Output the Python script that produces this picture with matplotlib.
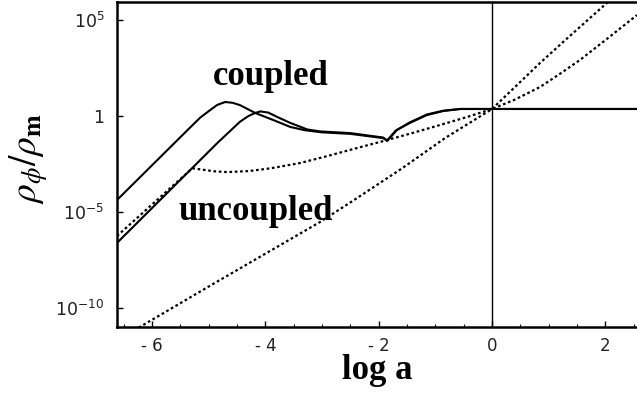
import numpy as np
import matplotlib
matplotlib.use("Agg")
import matplotlib.pyplot as plt
from matplotlib.ticker import FixedLocator, FixedFormatter, MultipleLocator, NullLocator

# ---- data: log10(rho_phi / rho_m) versus log a ----
coupled1_loga = [-6.62, -5.33, -5.15, -4.98, -4.85, -4.71, -4.58, -4.45, -4.18, -3.86,
                 -3.56, -3.3, -3.0, -2.5, -1.92, -1.85, -1.68, -1.45, -1.15, -0.86,
                 -0.56, 0.0, 2.56]
coupled1_log = [-4.375, -0.6, -0.08, 0.3, 0.58, 0.73, 0.69, 0.57, 0.16, -0.21,
                -0.57, -0.74, -0.85, -0.93, -1.15, -1.30, -0.73, -0.36, 0.05, 0.26,
                0.365, 0.365, 0.365]

coupled2_loga = [-6.62, -4.85, -4.45, -4.3, -4.18, -4.09, -3.95, -3.79, -3.56, -3.26,
                 -3.04, -2.5, -1.92, -1.85, -1.7, -1.45, -1.15, -0.86, -0.56, 0.0, 2.56]
coupled2_log = [-6.61, -1.41, -0.3, 0.0, 0.16, 0.24, 0.18, -0.05, -0.36, -0.70,
                -0.80, -0.89, -1.12, -1.27, -0.76, -0.33, 0.08, 0.28, 0.37, 0.37, 0.37]

uncoupledA_loga = [-6.62, -5.29, -5.1, -4.9, -4.68, -4.3, -3.9, -3.39, -2.9, -2.4,
                   -1.85, -1.4, -0.92, -0.45, 0.0, 0.4, 0.847, 1.2, 1.553, 2.0, 2.56]
uncoupledA_log = [-6.25, -2.72, -2.8, -2.88, -2.92, -2.87, -2.72, -2.45, -2.08, -1.68,
                  -1.25, -0.88, -0.47, -0.06, 0.365, 0.85, 1.51, 2.2, 2.92, 3.95, 5.26]

uncoupledB_loga = [-6.4, -6.16, -5.0, -4.0, -3.035, -2.435, -1.6, -0.83, 0.0, 0.847,
                   1.253, 2.047, 2.2]
uncoupledB_log = [-11.3, -10.89, -8.88, -7.17, -5.52, -4.375, -2.75, -1.15, 0.365, 2.76,
                  3.85, 5.94, 6.35]

xticks = [-6, -4, -2, 0, 2]
xticklabels = ["- 6", "- 4", "- 2", "0", "2"]
yticks_exp = [-10, -5, 0, 5]
yticklabels = [r"$10^{-10}$", r"$10^{-5}$", "1", r"$10^{5}$"]

# ---- figure ----
fig = plt.figure(figsize=(6.37, 3.95), dpi=100)
ax = fig.add_axes([117/637, 1 - 327/395, 520/637, 325/395])
ax.set_yscale("log")

def p(v):
    return np.power(10.0, np.asarray(v, dtype=float))

solid_kw = dict(color="black", lw=1.5, solid_joinstyle="round")
dot_kw = dict(color="black", lw=1.6, linestyle=(0, (1.2, 1.2)))

ax.plot(coupled1_loga, p(coupled1_log), **solid_kw)
ax.plot(coupled2_loga, p(coupled2_log), **solid_kw)
ax.plot(uncoupledA_loga, p(uncoupledA_log), **dot_kw)
ax.plot(uncoupledB_loga, p(uncoupledB_log), **dot_kw)
ax.axvline(0.0, color="black", lw=1.0)

ax.set_xlim(-6.62, 2.56)
ax.set_ylim(10**-10.99, 10**5.94)

ax.xaxis.set_major_locator(FixedLocator(xticks))
ax.xaxis.set_major_formatter(FixedFormatter(xticklabels))
ax.xaxis.set_minor_locator(MultipleLocator(0.5))
ax.yaxis.set_major_locator(FixedLocator([10.0**e for e in yticks_exp]))
ax.yaxis.set_major_formatter(FixedFormatter(yticklabels))
ax.yaxis.set_minor_locator(NullLocator())

ax.tick_params(axis="x", which="major", direction="in", length=4, width=1.0,
               pad=7, labelsize=12, top=False, labelcolor="#222222")
ax.tick_params(axis="x", which="minor", direction="in", length=2, width=0.8, top=False)
ax.tick_params(axis="y", which="major", direction="in", length=4, width=1.0,
               pad=9, labelsize=12.5, right=False, labelcolor="#222222")
for lab in ax.get_yticklabels() + ax.get_xticklabels():
    lab.set_fontfamily("DejaVu Sans")
    lab.set_math_fontfamily("dejavusans")

for s in ["left", "bottom", "top"]:
    ax.spines[s].set_linewidth(1.8)
ax.spines["right"].set_visible(False)

ax.set_xlabel("log a", fontsize=25, fontweight="bold", family="Liberation Serif")
ax.xaxis.label.set_verticalalignment("baseline")
ax.xaxis.set_label_coords(0.5, -0.16)

ylab = ax.set_ylabel(r"$\rho_\phi/\rho_{\mathbf{m}}$", fontsize=27)
ylab.set_math_fontfamily("stix")
ylab.set_verticalalignment("center")
ax.yaxis.set_label_coords(-0.17, 0.52)

ax.text(-4.92, 10**1.6, "coupled", fontsize=25, fontweight="bold",
        family="Liberation Serif", ha="left", va="baseline")
ax.text(-5.54, 10**-5.42, "uncoupled", fontsize=25, fontweight="bold",
        family="Liberation Serif", ha="left", va="baseline")

fig.savefig("out.png", dpi=100)
